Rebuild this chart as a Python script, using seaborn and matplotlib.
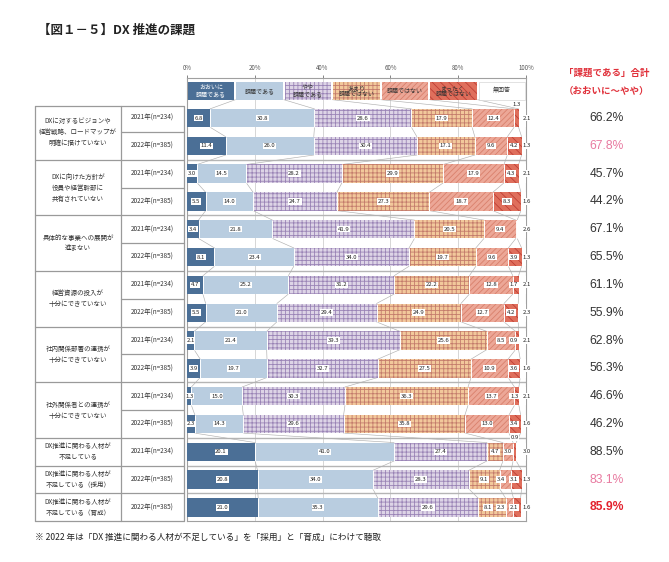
import numpy as np
import matplotlib
matplotlib.use("Agg")
import matplotlib.pyplot as plt
from matplotlib.patches import Rectangle
from matplotlib.transforms import blended_transform_factory
import seaborn as sns


# =========================================================
# DATA
# =========================================================

groups = [
    "DXに対するビジョンや\n経営戦略、ロードマップが\n明確に描けていない",
    "DXに向けた方針が\n役員や経営幹部に\n共有されていない",
    "具体的な事業への展開が\n進まない",
    "経営資源の投入が\n十分にできていない",
    "社内関係部署の連携が\n十分にできていない",
    "社外関係者との連携が\n十分にできていない",
    "DX推進に関わる人材が\n不足している",
    "DX推進に関わる人材が\n不足している（採用）",
    "DX推進に関わる人材が\n不足している（育成）",
]
group_sizes = [2, 2, 2, 2, 2, 2, 1, 1, 1]

years = [
    "2021年(n=234)", "2022年(n=385)",
    "2021年(n=234)", "2022年(n=385)",
    "2021年(n=234)", "2022年(n=385)",
    "2021年(n=234)", "2022年(n=385)",
    "2021年(n=234)", "2022年(n=385)",
    "2021年(n=234)", "2022年(n=385)",
    "2021年(n=234)", "2022年(n=385)", "2022年(n=385)",
]

categories = [
    "おおいに\n課題である", "課題である", "やや\n課題である",
    "あまり\n課題ではない", "課題ではない", "まったく\n課題ではない", "無回答",
]

ooini = [6.8, 11.4, 3.0, 5.5, 3.4, 8.1, 4.7, 5.5, 2.1, 3.9, 1.3, 2.3, 20.1, 20.8, 21.0]
kadai = [30.8, 26.0, 14.5, 14.0, 21.8, 23.4, 25.2, 21.0, 21.4, 19.7, 15.0, 14.3, 41.0, 34.0, 35.3]
yaya = [28.6, 30.4, 28.2, 24.7, 41.9, 34.0, 31.2, 29.4, 39.3, 32.7, 30.3, 29.6, 27.4, 28.3, 29.6]
amari = [17.9, 17.1, 29.9, 27.3, 20.5, 19.7, 22.2, 24.9, 25.6, 27.5, 36.3, 35.8, 4.7, 9.1, 8.1]
dewanai = [12.4, 9.6, 17.9, 18.7, 9.4, 9.6, 12.8, 12.7, 8.5, 10.9, 13.7, 13.0, 3.0, 3.4, 2.3]
mattaku = [1.3, 4.2, 4.3, 8.3, 0.4, 3.9, 1.7, 4.2, 0.9, 3.6, 1.3, 3.4, 0.9, 3.1, 2.1]
mukaitou = [2.1, 1.3, 2.1, 1.6, 2.6, 1.3, 2.1, 2.3, 2.1, 1.6, 2.1, 1.6, 3.0, 1.3, 1.6]

series = [ooini, kadai, yaya, amari, dewanai, mattaku, mukaitou]

# total of the first three answers ("課題である" 合計)
totals = [round(a + b + c, 1) for a, b, c in zip(ooini, kadai, yaya)]


# =========================================================
# STYLE
# =========================================================

sns.set_theme(style="white")
plt.rcParams["font.family"] = ["Noto Sans CJK JP", "DejaVu Sans"]
plt.rcParams["hatch.linewidth"] = 0.6

face_colors = ["#4b6f96", "#b9cde0", "#ddd4e6", "#f2c89b", "#eca797", "#df6f5c", "#ffffff"]
hatch_colors = ["#4b6f96", "#b9cde0", "#9a84b6", "#c47c6c", "#d9806c", "#bf4036", "#ffffff"]
hatches = [None, None, "++++", "++++", "//////", "\\\\\\\\", None]
legend_text_colors = ["white", "#333333", "#333333", "#333333", "#333333", "#333333", "#333333"]

total_colors = ["#333333"] * 15
total_colors[1] = "#e87aa0"
total_colors[13] = "#e87aa0"
total_colors[14] = "#e3222e"

bar_h = 0.66
lifted_labels = {(0, 5), (12, 5)}
label_gap = 3.8
last_label_x = 100.3

fig = plt.figure(figsize=(6.69, 5.62), dpi=100)
ax = fig.add_axes([187 / 669, 1 - 521 / 562, 339 / 669, 443 / 562])

positions = np.arange(len(ooini))
cum = np.cumsum(np.array(series), axis=0)
starts = cum - np.array(series)

# =========================================================
# STACKED BARS (drawn from the longest cumulative down)
# =========================================================

for k in reversed(range(len(series))):
    sns.barplot(
        x=cum[k],
        y=positions,
        orient="y",
        native_scale=True,
        color=face_colors[k],
        saturation=1,
        width=bar_h,
        hatch=hatches[k],
        edgecolor=hatch_colors[k],
        linewidth=0,
        errorbar=None,
        zorder=3,
        ax=ax,
    )

# white separators between segments
for k in range(len(series) - 1):
    ax.vlines(
        cum[k], positions - bar_h / 2, positions + bar_h / 2,
        color="white", lw=0.7, zorder=4,
    )

# connecting lines between consecutive bars
legend_top, legend_bottom = -1.29, -0.66
for k in range(len(series) - 1):
    ax.plot(
        [(k + 1) * 100 / 7, cum[k][0]],
        [legend_bottom, -bar_h / 2],
        color="#b0b0b0", lw=0.45, zorder=2,
    )
    for i in range(len(positions) - 1):
        ax.plot(
            [cum[k][i], cum[k][i + 1]],
            [i + bar_h / 2, i + 1 - bar_h / 2],
            color="#b0b0b0", lw=0.45, zorder=2,
        )

# segment labels: small right-hand segments are pushed left so they don't collide
for i in positions:
    next_x = last_label_x + label_gap
    for k in reversed(range(len(series))):
        v = series[k][i]
        if v < 0.5:
            continue
        center = starts[k][i] + v / 2
        if (i, k) in lifted_labels:
            x, y = center, i - 0.5
        else:
            x = last_label_x if k == 6 else min(center, next_x - label_gap)
            y = i
            next_x = x
        ax.text(
            x, y, f"{v:.1f}",
            ha="center", va="center", fontsize=4.3, color="#222222",
            bbox=dict(boxstyle="square,pad=0.12", fc="white", ec="none"),
            zorder=6,
        )

# legend header row
for k, label in enumerate(categories):
    x0 = k * 100 / 7 + 0.3
    w = 100 / 7 - 0.6
    ax.add_patch(Rectangle(
        (x0, legend_top), w, legend_bottom - legend_top,
        facecolor=face_colors[k], edgecolor=hatch_colors[k] if k < 6 else "#cccccc",
        hatch=hatches[k], lw=0.4 if k == 6 else 0, zorder=3,
    ))
    ax.text(
        x0 + w / 2, (legend_top + legend_bottom) / 2, label,
        ha="center", va="center", fontsize=4.3, linespacing=1.2,
        color=legend_text_colors[k], zorder=5,
    )

# group separators in the plot area
group_edges = np.cumsum(group_sizes)[:-1] - 0.5
for yb in group_edges:
    ax.axhline(yb, color="#b5b5b5", lw=1.0, zorder=1)

# axes styling
ax.set_xlim(0, 100)
ax.set_ylim(14.49, -1.44)
ax.set_xticks([0, 20, 40, 60, 80, 100])
ax.set_xticklabels(["0%", "20%", "40%", "60%", "80%", "100%"])
ax.xaxis.tick_top()
ax.tick_params(axis="x", labelsize=4.4, colors="#555555", length=2, pad=2, width=0.5)
ax.set_yticks([])
ax.set_xlabel("")
ax.set_ylabel("")
for x in [20, 40, 60, 80]:
    ax.axvline(x, color="#d0d0d0", lw=0.6, zorder=0)
for s in ax.spines.values():
    s.set_color("#a0a0a0")
    s.set_linewidth(0.8)

# =========================================================
# LEFT TABLE
# =========================================================

trans = blended_transform_factory(fig.transFigure, ax.transData)
x_left, x_mid, x_right = 35 / 669, 121 / 669, 184 / 669
table_top, table_bottom = -0.45, 14.49
line_kw = dict(color="#9a9a9a", lw=0.9, transform=trans, clip_on=False)

for xv in [x_left, x_mid, x_right]:
    fig.add_artist(plt.Line2D([xv, xv], [table_top, table_bottom], **line_kw))
fig.add_artist(plt.Line2D([x_left, x_right], [table_top, table_top], **line_kw))
fig.add_artist(plt.Line2D([x_left, x_right], [table_bottom, table_bottom], **line_kw))
for yb in group_edges:
    fig.add_artist(plt.Line2D([x_left, x_right], [yb, yb], **line_kw))

row = 0
for g, n in zip(groups, group_sizes):
    if n == 2:
        fig.add_artist(plt.Line2D([x_mid, x_right], [row + 0.5, row + 0.5], **line_kw))
    fig.text(
        (x_left + x_mid) / 2, row + (n - 1) / 2, g,
        transform=trans, ha="center", va="center",
        fontsize=4.7, linespacing=1.5, color="#333333",
    )
    row += n

for i, y in enumerate(years):
    fig.text(
        (x_mid + x_right) / 2, i, y, transform=trans,
        ha="center", va="center", fontsize=4.6, color="#333333",
    )

# =========================================================
# RIGHT COLUMN TOTALS
# =========================================================

x_tot = 607 / 669
fig.text(x_tot, 1 - 73 / 562, "「課題である」合計", ha="center", va="center",
         fontsize=6.8, color="#e0303a", fontweight="bold")
fig.text(x_tot, 1 - 91 / 562, "（おおいに〜やや）", ha="center", va="center",
         fontsize=6.8, color="#e0303a", fontweight="bold")

for i, t in enumerate(totals):
    fig.text(
        x_tot, i, f"{t:.1f}%", transform=trans,
        ha="center", va="center", fontsize=8.7,
        family=["Liberation Sans", "DejaVu Sans"],
        color=total_colors[i],
        fontweight="bold" if i == 14 else "normal",
    )

# =========================================================
# TITLE AND NOTE
# =========================================================

fig.text(38 / 669, 1 - 30 / 562, "【図１－５】DX 推進の課題", ha="left", va="center",
         fontsize=9, fontweight="bold", color="#222222")
fig.text(35 / 669, 1 - 537 / 562,
         "※ 2022 年は「DX 推進に関わる人材が不足している」を「採用」と「育成」にわけて聴取",
         ha="left", va="center", fontsize=6.2, color="#222222")

fig.savefig("out.png", dpi=100)
